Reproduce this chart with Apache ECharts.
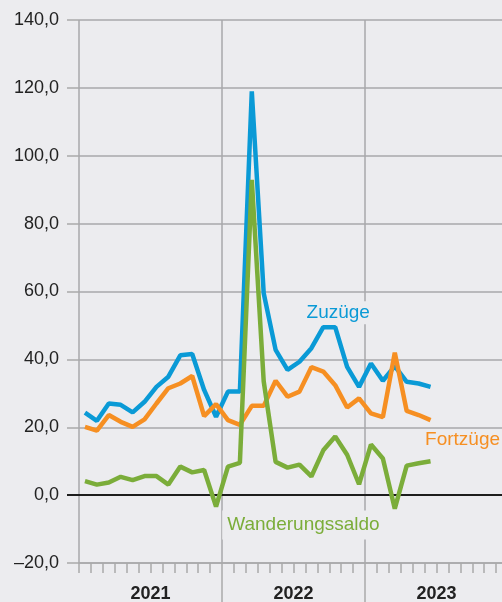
<!DOCTYPE html>
<html>
<head>
<meta charset="utf-8">
<script src="https://cdn.jsdelivr.net/npm/echarts@6/dist/echarts.min.js"></script>
<style>
  html, body { margin: 0; padding: 0; background: #ececef; }
  #chart { width: 502px; height: 602px; }
</style>
</head>
<body>
<div id="chart"></div>
<script>
// monthly values, Jan 2021 - Jun 2023
const years = ['2021', '2022', '2023']
const monthNames = ['Jan', 'Feb', 'Mär', 'Apr', 'Mai', 'Jun', 'Jul', 'Aug', 'Sep', 'Okt', 'Nov', 'Dez']
const zuzuege = [24.3, 21.9, 27.0, 26.6, 24.4, 27.5, 31.9, 34.9, 41.2, 41.6, 31.0, 23.1,
  30.5, 30.5, 119.0, 59.5, 42.8, 36.9, 39.3, 43.3, 49.5, 49.5, 37.8, 31.9,
  38.8, 33.7, 38.0, 33.4, 32.9, 31.9]
const fortzuege = [20.1, 19.0, 23.6, 21.6, 20.1, 22.3, 27.0, 31.5, 32.9, 35.1, 23.3, 26.8,
  22.1, 20.7, 26.3, 26.3, 33.7, 29.0, 30.5, 37.7, 36.4, 32.4, 25.8, 28.5,
  24.1, 23.0, 42.0, 24.8, 23.6, 22.1]
const saldo = [4.1, 3.1, 3.7, 5.4, 4.4, 5.6, 5.6, 3.1, 8.4, 6.7, 7.4, -3.4,
  8.4, 9.5, 92.9, 33.5, 9.8, 8.1, 9.0, 5.5, 13.2, 17.3, 11.9, 3.2,
  14.9, 10.8, -4.0, 8.7, 9.4, 10.0]
const yTicks = { min: -20, max: 140, step: 20 }

const months = years.flatMap(y => monthNames.map(m => m + ' ' + y))

const FONT = 'Liberation Sans, Arial, sans-serif'
const BG = '#ececef'
const GRID_GRAY = '#a9a9ab'
const BLUE = '#0a9ad6'
const ORANGE = '#f68f22'
const GREEN = '#7bad3a'

function withLabel(values, idx, label) {
  return values.map((v, i) => (i === idx ? { value: v, label: Object.assign({ show: true }, label) } : v))
}

const labelBase = { fontFamily: FONT, fontSize: 19 }

const chart = echarts.init(document.getElementById('chart'), null, { renderer: 'canvas' })

chart.setOption({
  backgroundColor: BG,
  animation: false,
  grid: { left: 79, top: 20, width: 429, height: 543, containLabel: false, outerBoundsMode: 'none' },
  xAxis: [
    {
      type: 'category',
      data: months,
      boundaryGap: true,
      axisLine: { onZero: false, lineStyle: { color: GRID_GRAY, width: 1.5 } },
      axisTick: { show: true, interval: 0, length: 10, lineStyle: { color: GRID_GRAY, width: 1.5 } },
      axisLabel: { show: false },
      splitLine: {
        show: true,
        interval: (i) => i % 12 === 0,
        lineStyle: { color: GRID_GRAY, width: 1.5 }
      }
    },
    {
      type: 'category',
      data: years,
      position: 'bottom',
      boundaryGap: true,
      axisLine: { show: false, onZero: false },
      axisTick: { show: true, interval: (i) => i > 0, length: 40, lineStyle: { color: GRID_GRAY, width: 1.5 } },
      axisLabel: { show: true, interval: 0, margin: 22, color: '#222', fontFamily: FONT, fontSize: 18, fontWeight: 'bold' },
      splitLine: { show: false }
    },
    {
      type: 'category',
      data: months,
      position: 'bottom',
      axisLine: { show: true, onZero: true, lineStyle: { color: '#1d1d1d', width: 2 } },
      axisTick: { show: false },
      axisLabel: { show: false },
      splitLine: { show: false }
    }
  ],
  yAxis: [
    {
      type: 'value',
      min: yTicks.min,
      max: yTicks.max,
      interval: yTicks.step,
      axisLine: { show: false },
      axisTick: { show: true, inside: false, length: 12, lineStyle: { color: GRID_GRAY, width: 1.5 } },
      axisLabel: {
        margin: 20,
        color: '#222',
        fontFamily: FONT,
        fontSize: 18,
        formatter: (v) => v.toFixed(1).replace('.', ',').replace('-', '–')
      },
      splitLine: { show: true, lineStyle: { color: GRID_GRAY, width: 1.5 } }
    },
    {
      type: 'value',
      min: yTicks.min,
      max: yTicks.max,
      position: 'left',
      axisLine: { show: false },
      axisTick: { show: true, inside: false, length: 12, customValues: [0], lineStyle: { color: '#1d1d1d', width: 2 } },
      axisLabel: { show: false },
      splitLine: { show: false }
    }
  ],
  series: [
    {
      name: 'Zuzüge',
      type: 'line',
      xAxisIndex: 0,
      yAxisIndex: 0,
      data: withLabel(zuzuege, 21, Object.assign({}, labelBase, {
        formatter: 'Zuzüge', color: BLUE, position: 'top', distance: 3, offset: [3, 0],
        backgroundColor: BG, padding: [2, 4, 2, 4]
      })),
      symbol: 'circle',
      symbolSize: 0,
      showSymbol: true,
      lineStyle: { color: BLUE, width: 4.5 },
      itemStyle: { color: BLUE },
      emphasis: { disabled: true }
    },
    {
      name: 'Fortzüge',
      type: 'line',
      xAxisIndex: 0,
      yAxisIndex: 0,
      data: withLabel(fortzuege, 29, Object.assign({}, labelBase, {
        formatter: 'Fortzüge', color: ORANGE, position: 'bottom', distance: 10, offset: [32, 0]
      })),
      symbol: 'circle',
      symbolSize: 0,
      showSymbol: true,
      lineStyle: { color: ORANGE, width: 4.5 },
      itemStyle: { color: ORANGE },
      emphasis: { disabled: true }
    },
    {
      name: 'Wanderungssaldo',
      type: 'line',
      xAxisIndex: 0,
      yAxisIndex: 0,
      data: withLabel(saldo, 18, Object.assign({}, labelBase, {
        formatter: 'Wanderungssaldo', color: GREEN, position: 'bottom', distance: 46, offset: [4, 0],
        backgroundColor: BG, padding: [5, 5, 5, 5]
      })),
      symbol: 'circle',
      symbolSize: 0,
      showSymbol: true,
      lineStyle: { color: GREEN, width: 4.5 },
      itemStyle: { color: GREEN },
      emphasis: { disabled: true }
    }
  ]
})
</script>
</body>
</html>
